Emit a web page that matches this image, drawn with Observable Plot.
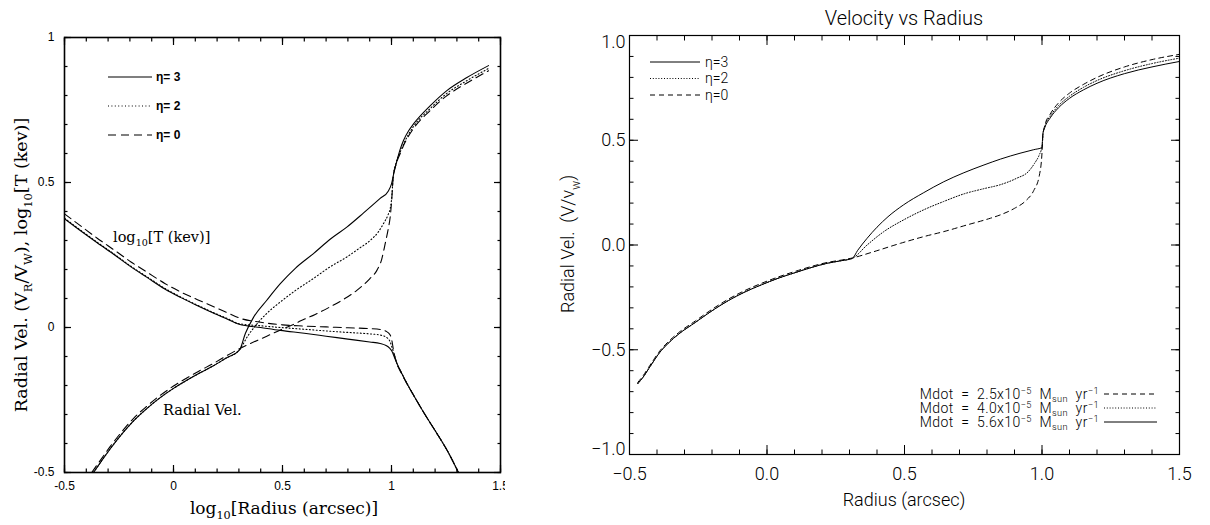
<!DOCTYPE html>
<html><head><meta charset="utf-8">
<script src="https://cdn.jsdelivr.net/npm/d3@7"></script>
<script src="https://cdn.jsdelivr.net/npm/@observablehq/plot@0.6"></script>
<style>
html,body{margin:0;padding:0;background:#fff;}
#wrap{position:relative;width:1210px;height:525px;overflow:hidden;background:#fff;}
#left{position:absolute;left:0;top:0;}
#right{position:absolute;left:505px;top:0;}
text{white-space:pre;}
</style></head><body><div id="wrap"><div id="left"></div><div id="right"></div></div>
<script>
// ---------------- Data: left panel (log radius vs velocity and log T) ----------------
const radiusTicksL = [-0.5, 0, 0.5, 1, 1.5];
const valueTicksL = [-0.5, 0, 0.5, 1];
const legendL = ["η= 3", "η= 2", "η= 0"];

const velEta3L = [[-0.367,-0.5],[-0.33,-0.46],[-0.29,-0.418],[-0.24,-0.37],[-0.183,-0.322],[-0.12,-0.278],[-0.061,-0.242],[0.0,-0.21],[0.061,-0.182],[0.12,-0.157],[0.183,-0.132],[0.24,-0.106],[0.303,-0.077],
  [0.33,-0.02],[0.367,0.035],[0.428,0.094],[0.49,0.151],[0.56,0.205],[0.642,0.255],[0.72,0.305],[0.795,0.346],[0.872,0.395],[0.948,0.445],[0.985,0.47],[1.0,0.495],[1.01,0.53],[1.025,0.575],[1.04,0.615],[1.055,0.645],[1.08,0.68],[1.101,0.702],[1.178,0.765],[1.254,0.817],[1.346,0.862],[1.445,0.903]];
const velEta2L = [[-0.367,-0.5],[-0.33,-0.46],[-0.29,-0.418],[-0.24,-0.37],[-0.183,-0.322],[-0.12,-0.278],[-0.061,-0.242],[0.0,-0.21],[0.061,-0.182],[0.12,-0.157],[0.183,-0.132],[0.24,-0.106],[0.303,-0.077],
  [0.34,-0.03],[0.38,0.01],[0.43,0.05],[0.49,0.088],[0.56,0.128],[0.642,0.169],[0.72,0.21],[0.795,0.243],[0.85,0.272],[0.902,0.3],[0.94,0.33],[0.963,0.358],[0.985,0.39],[0.994,0.41],[1.0,0.44],[1.008,0.52],[1.02,0.565],[1.04,0.605],[1.06,0.64],[1.1,0.692],[1.18,0.757],[1.25,0.805],[1.35,0.853],[1.445,0.893]];
const velEta0L = [[-0.375,-0.5],[-0.33,-0.452],[-0.29,-0.41],[-0.24,-0.362],[-0.183,-0.313],[-0.12,-0.27],[-0.061,-0.234],[0.0,-0.202],[0.061,-0.174],[0.12,-0.149],[0.183,-0.124],[0.24,-0.099],[0.303,-0.073],
  [0.35,-0.056],[0.428,-0.03],[0.5,-0.005],[0.554,0.012],[0.581,0.022],[0.65,0.045],[0.718,0.071],[0.78,0.097],[0.841,0.128],[0.9,0.168],[0.933,0.197],[0.955,0.235],[0.971,0.289],[0.985,0.34],[0.994,0.381],[1.001,0.44],[1.008,0.52],[1.02,0.56],[1.04,0.6],[1.06,0.635],[1.1,0.685],[1.18,0.75],[1.25,0.797],[1.35,0.845],[1.445,0.885]];

const tempEta3L = [[-0.5,0.375],[-0.42,0.33],[-0.35,0.292],[-0.27,0.25],[-0.195,0.209],[-0.12,0.172],[-0.04,0.133],[0.034,0.103],[0.11,0.075],[0.187,0.048],[0.25,0.028],[0.301,0.011],
  [0.4,0.0],[0.49,-0.01],[0.6,-0.02],[0.7,-0.03],[0.8,-0.04],[0.9,-0.05],[0.948,-0.055],[0.975,-0.062],[0.99,-0.07],[1.002,-0.082],[1.012,-0.1],[1.025,-0.124],[1.045,-0.155],[1.071,-0.193],[1.1,-0.232],[1.132,-0.273],[1.17,-0.32],[1.208,-0.365],[1.26,-0.43],[1.307,-0.5]];
const tempEta2L = [[-0.5,0.377],[-0.42,0.332],[-0.35,0.294],[-0.27,0.252],[-0.195,0.211],[-0.12,0.174],[-0.04,0.135],[0.034,0.105],[0.11,0.077],[0.187,0.05],[0.25,0.03],[0.301,0.013],
  [0.4,0.006],[0.49,0.0],[0.6,-0.006],[0.7,-0.012],[0.8,-0.017],[0.9,-0.022],[0.948,-0.026],[0.975,-0.033],[0.994,-0.05],[1.005,-0.075],[1.015,-0.1],[1.025,-0.124],[1.045,-0.155],[1.071,-0.193],[1.1,-0.232],[1.132,-0.273],[1.17,-0.32],[1.208,-0.365],[1.26,-0.43],[1.307,-0.5]];
const tempEta0L = [[-0.5,0.392],[-0.42,0.347],[-0.35,0.308],[-0.27,0.266],[-0.195,0.226],[-0.12,0.19],[-0.04,0.152],[0.034,0.122],[0.11,0.096],[0.187,0.071],[0.25,0.05],[0.301,0.033],
  [0.4,0.018],[0.5,0.009],[0.6,0.005],[0.7,0.002],[0.8,-0.001],[0.9,-0.004],[0.948,-0.007],[0.975,-0.013],[0.994,-0.026],[1.003,-0.05],[1.009,-0.078],[1.017,-0.105],[1.03,-0.135],[1.045,-0.157],[1.071,-0.194],[1.1,-0.232],[1.132,-0.273],[1.17,-0.32],[1.208,-0.365],[1.26,-0.43],[1.307,-0.5]];

// ---------------- Data: right panel (Velocity vs Radius) ----------------
const radiusTicksR = [-0.5, 0, 0.5, 1, 1.5];
const valueTicksR = [-1, -0.5, 0, 0.5, 1];
const legendR = ["η=3", "η=2", "η=0"];
const mdotLabels = ["2.5", "4.0", "5.6"];

const velEta3R = [[-0.47,-0.662],[-0.45,-0.63],[-0.43,-0.59],[-0.41,-0.55],[-0.393,-0.518],[-0.36,-0.47],[-0.321,-0.425],[-0.26,-0.369],[-0.2,-0.314],[-0.14,-0.265],[-0.08,-0.224],[-0.02,-0.19],[0.04,-0.159],[0.1,-0.133],[0.16,-0.108],[0.22,-0.087],[0.27,-0.075],[0.31,-0.064],
  [0.33,-0.025],[0.364,0.032],[0.4,0.085],[0.44,0.135],[0.497,0.192],[0.57,0.25],[0.643,0.302],[0.716,0.345],[0.789,0.382],[0.849,0.41],[0.92,0.438],[0.97,0.455],[1.0,0.465],[1.003,0.53],[1.01,0.56],[1.03,0.607],[1.06,0.655],[1.1,0.7],[1.15,0.74],[1.2,0.772],[1.3,0.818],[1.4,0.85],[1.5,0.876]];
const velEta2R = [[-0.47,-0.662],[-0.45,-0.63],[-0.43,-0.59],[-0.41,-0.55],[-0.393,-0.518],[-0.36,-0.47],[-0.321,-0.425],[-0.26,-0.369],[-0.2,-0.314],[-0.14,-0.265],[-0.08,-0.224],[-0.02,-0.19],[0.04,-0.159],[0.1,-0.133],[0.16,-0.108],[0.22,-0.087],[0.27,-0.075],[0.31,-0.064],
  [0.364,0.0],[0.425,0.064],[0.497,0.12],[0.57,0.168],[0.643,0.208],[0.716,0.244],[0.789,0.269],[0.849,0.288],[0.907,0.318],[0.95,0.35],[0.973,0.39],[0.99,0.43],[1.0,0.47],[1.004,0.53],[1.01,0.565],[1.03,0.615],[1.06,0.665],[1.1,0.71],[1.15,0.752],[1.2,0.785],[1.3,0.832],[1.4,0.866],[1.5,0.892]];
const velEta0R = [[-0.47,-0.656],[-0.45,-0.623],[-0.43,-0.583],[-0.41,-0.543],[-0.393,-0.511],[-0.36,-0.463],[-0.321,-0.418],[-0.26,-0.362],[-0.2,-0.307],[-0.14,-0.258],[-0.08,-0.217],[-0.02,-0.183],[0.04,-0.153],[0.1,-0.127],[0.16,-0.103],[0.22,-0.083],[0.27,-0.072],[0.31,-0.062],
  [0.388,-0.032],[0.485,0.008],[0.57,0.04],[0.643,0.064],[0.728,0.096],[0.813,0.128],[0.849,0.144],[0.9,0.175],[0.94,0.21],[0.97,0.26],[0.99,0.33],[1.0,0.44],[1.003,0.52],[1.01,0.57],[1.03,0.625],[1.06,0.678],[1.1,0.725],[1.15,0.766],[1.2,0.8],[1.3,0.85],[1.4,0.885],[1.5,0.91]];

// ---------------- helpers ----------------
const minorOf = (a, b) => d3.range(Math.round(a * 10), Math.round(b * 10) + 1).map(v => v / 10);

function frameTicks(xMajor, yMajor, majLen, minLen, sw) {
  const xMinor = minorOf(xMajor[0], xMajor[xMajor.length - 1]);
  const yMinor = minorOf(yMajor[0], yMajor[yMajor.length - 1]);
  const blank = () => "";
  const o = {tickFormat: blank, label: null, strokeWidth: sw};
  return [
    Plot.axisX(xMinor, {...o, anchor: "bottom", tickSize: -minLen}),
    Plot.axisX(xMinor, {...o, anchor: "top", tickSize: -minLen}),
    Plot.axisX(xMajor, {...o, anchor: "bottom", tickSize: -majLen}),
    Plot.axisX(xMajor, {...o, anchor: "top", tickSize: -majLen}),
    Plot.axisY(yMinor, {...o, anchor: "left", tickSize: -minLen}),
    Plot.axisY(yMinor, {...o, anchor: "right", tickSize: -minLen}),
    Plot.axisY(yMajor, {...o, anchor: "left", tickSize: -majLen}),
    Plot.axisY(yMajor, {...o, anchor: "right", tickSize: -majLen})
  ];
}

function richText(g, x, y, parts, {size, family, weight = "normal", anchor = "start", rotate = 0, fill = "black", supShift = 0.42, subShift = 0.3, spacing = 0}) {
  const t = g.append("text")
    .attr("transform", `translate(${x},${y}) rotate(${rotate})`)
    .attr("font-family", family).attr("font-size", size).attr("font-weight", weight)
    .attr("letter-spacing", spacing)
    .attr("text-anchor", anchor).attr("fill", fill).attr("y", size * 0.35);
  let off = 0;
  for (const p of parts) {
    const target = p.sub ? size * subShift : p.sup ? -size * supShift : 0;
    const ts = t.append("tspan").text(p.t).attr("dy", target - off);
    if (p.sub || p.sup) ts.attr("font-size", size * 0.66);
    off = target;
  }
  return t;
}

// ---------------- Left panel ----------------
const serif = "DejaVu Serif, serif";
const sansL = "Liberation Sans, Arial, Helvetica, sans-serif";
const lw = 1.1;
const dashL = "8,5", dotL = "1,2.4";

const leftPlot = Plot.plot({
  width: 505, height: 525,
  marginLeft: 64, marginRight: 5, marginTop: 37, marginBottom: 53,
  x: {domain: [-0.5, 1.5]},
  y: {domain: [-0.5, 1]},
  style: {fontFamily: sansL, fontSize: "12px", color: "black", background: "white", overflow: "visible"},
  marks: [
    Plot.line(velEta3L, {stroke: "black", strokeWidth: lw, curve: "monotone-x", clip: true}),
    Plot.line(velEta2L, {stroke: "black", strokeWidth: lw, strokeDasharray: dotL, curve: "monotone-x", clip: true}),
    Plot.line(velEta0L, {stroke: "black", strokeWidth: lw, strokeDasharray: dashL, curve: "monotone-x", clip: true}),
    Plot.line(tempEta3L, {stroke: "black", strokeWidth: lw, curve: "monotone-x", clip: true}),
    Plot.line(tempEta2L, {stroke: "black", strokeWidth: lw, strokeDasharray: dotL, curve: "monotone-x", clip: true}),
    Plot.line(tempEta0L, {stroke: "black", strokeWidth: lw, strokeDasharray: dashL, curve: "monotone-x", clip: true}),
    ...frameTicks(radiusTicksL, valueTicksL, 7, 3.5, 1.2),
    Plot.axisX(radiusTicksL, {anchor: "bottom", tickSize: 0, tickPadding: 9, label: null, fontSize: 12, tickFormat: d => String(d)}),
    Plot.axisY(valueTicksL, {anchor: "left", tickSize: 0, tickPadding: 10, label: null, fontSize: 12, tickFormat: d => String(d)}),
    Plot.frame({stroke: "black", strokeWidth: 1.6})
  ]
});
document.getElementById("left").appendChild(leftPlot);
{
  const g = d3.select(leftPlot).append("g");
  // axis titles
  richText(g, 284, 508, [{t: "log"}, {t: "10", sub: true}, {t: "[Radius (arcsec)]"}], {size: 17, family: serif, anchor: "middle"});
  richText(g, 21, 265, [{t: "Radial Vel. (V"}, {t: "R", sub: true}, {t: "/V"}, {t: "W", sub: true}, {t: "), log"}, {t: "10", sub: true}, {t: "[T (kev)]"}],
    {size: 17.5, family: serif, anchor: "middle", rotate: -90});
  // curve annotations
  richText(g, 113, 237, [{t: "log"}, {t: "10", sub: true}, {t: "[T (kev)]"}], {size: 14.5, family: serif});
  richText(g, 163, 410, [{t: "Radial Vel."}], {size: 14.5, family: serif});
  // legend
  const dashes = [null, dotL, dashL];
  legendL.forEach((lab, i) => {
    const yy = 77 + i * 29;
    g.append("line").attr("x1", 108).attr("x2", 152).attr("y1", yy).attr("y2", yy)
      .attr("stroke", "black").attr("stroke-width", lw).attr("stroke-dasharray", dashes[i]);
    richText(g, 156, yy, [{t: lab}], {size: 12, family: sansL, weight: "bold"});
  });
}

// ---------------- Right panel ----------------
const sansR = "Roboto, DejaVu Sans, sans-serif";
const rw = 1.0;
const dashR = "5,4", dotR = "1,1.8";
const fmtR = d3.format(".1f");
const innerTicksR = valueTicksR.filter(v => Math.abs(v) < 1);
const topTickR = valueTicksR.filter(v => v === d3.max(valueTicksR));
const botTickR = valueTicksR.filter(v => v === d3.min(valueTicksR));

const rightPlot = Plot.plot({
  width: 705, height: 525,
  marginLeft: 124, marginRight: 31, marginTop: 35, marginBottom: 71,
  x: {domain: [-0.5, 1.5]},
  y: {domain: [-1, 1]},
  style: {fontFamily: sansR, fontSize: "18px", fontWeight: 300, color: "black", background: "white", overflow: "visible"},
  marks: [
    Plot.line(velEta3R, {stroke: "black", strokeWidth: rw, curve: "monotone-x", clip: true}),
    Plot.line(velEta2R, {stroke: "black", strokeWidth: rw, strokeDasharray: dotR, curve: "monotone-x", clip: true}),
    Plot.line(velEta0R, {stroke: "black", strokeWidth: rw, strokeDasharray: dashR, curve: "monotone-x", clip: true}),
    ...frameTicks(radiusTicksR, valueTicksR, 9, 4.5, 1),
    Plot.axisX(radiusTicksR, {anchor: "bottom", tickSize: 0, tickPadding: 13, label: null, fontSize: 18, tickFormat: fmtR}),
    Plot.axisY(innerTicksR, {anchor: "left", tickSize: 0, tickPadding: 4, label: null, fontSize: 18, tickFormat: fmtR}),
    Plot.axisY(topTickR, {anchor: "left", tickSize: 0, tickPadding: 4, label: null, fontSize: 18, tickFormat: fmtR, dy: 7}),
    Plot.axisY(botTickR, {anchor: "left", tickSize: 0, tickPadding: 4, label: null, fontSize: 18, tickFormat: fmtR, dy: -5}),
    Plot.frame({stroke: "black", strokeWidth: 1.2})
  ]
});
document.getElementById("right").appendChild(rightPlot);
{
  const g = d3.select(rightPlot).append("g").attr("font-weight", 300);
  // title and axis titles (panel offset 505)
  richText(g, 904 - 505, 18, [{t: "Velocity vs Radius"}], {size: 20, family: sansR, anchor: "middle", weight: 300});
  richText(g, 904 - 505, 500, [{t: "Radius (arcsec)"}], {size: 18, family: sansR, anchor: "middle", weight: 300});
  richText(g, 568 - 505, 244, [{t: "Radial Vel.  (V/v"}, {t: "w", sub: true}, {t: ")"}], {size: 18, family: sansR, anchor: "middle", rotate: -90, weight: 300});
  // top-left legend
  const dashes = [null, dotR, dashR];
  legendR.forEach((lab, i) => {
    const yy = 62 + i * 16.5;
    g.append("line").attr("x1", 650 - 505).attr("x2", 700 - 505).attr("y1", yy).attr("y2", yy)
      .attr("stroke", "black").attr("stroke-width", rw).attr("stroke-dasharray", dashes[i]);
    richText(g, 705 - 505, yy, [{t: lab}], {size: 14, family: sansR, weight: 300});
  });
  // bottom-right legend
  const dashesB = [dashR, dotR, null];
  mdotLabels.forEach((m, i) => {
    const yy = 394 + i * 14;
    richText(g, 1099 - 505, yy, [{t: `Mdot  =  ${m}x10`}, {t: "−5", sup: true}, {t: "  M"}, {t: "sun", sub: true}, {t: "  yr"}, {t: "−1", sup: true}],
      {size: 14, family: sansR, anchor: "end", weight: 300, supShift: 0.36, subShift: 0.22, spacing: 0.4});
    g.append("line").attr("x1", 1104 - 505).attr("x2", 1157 - 505).attr("y1", yy).attr("y2", yy)
      .attr("stroke", "black").attr("stroke-width", rw).attr("stroke-dasharray", dashesB[i]);
  });
}
</script>
</body></html>
